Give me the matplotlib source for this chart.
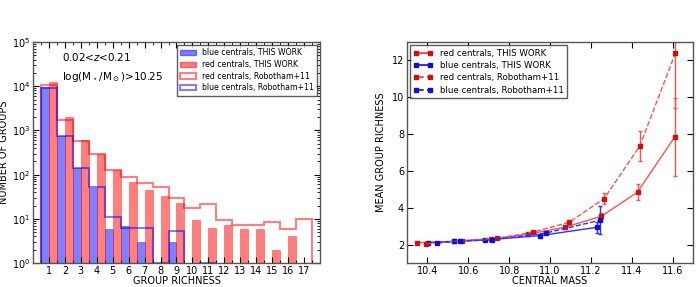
import numpy as np
import matplotlib
matplotlib.use('Agg')
import matplotlib.pyplot as plt
from matplotlib.ticker import MultipleLocator
from matplotlib.patches import Patch
from matplotlib.lines import Line2D

plt.rcParams['font.family'] = 'DejaVu Sans'
plt.rcParams['font.size'] = 7
plt.rcParams['mathtext.default'] = 'regular'
plt.rcParams['xtick.direction'] = 'in'
plt.rcParams['ytick.direction'] = 'in'
plt.rcParams['xtick.top'] = True
plt.rcParams['ytick.right'] = True
plt.rcParams['axes.linewidth'] = 1.0
plt.rcParams['axes.edgecolor'] = '#555555'

# --- left panel: histogram of group richness
richness = np.arange(1, 18)
red_tw = [12500, 2000, 620, 290, 125, 69, 44, 32, 23, 9.5, 6.3, 7.1, 6, 6, 2, 4, 0]
blue_tw = [9500, 760, 138, 50, 6, 7, 3, 0, 3, 0, 0, 0, 0, 0, 0, 0, 0]
red_rob = [10500, 1700, 590, 300, 124, 89, 63, 52, 29, 18, 22, 9.3, 7.1, 7.1, 8.3, 6, 10]
blue_rob = [9000, 750, 138, 53, 11, 6.2, 6.2, 1, 5.2, 0, 1, 0, 0, 0, 0, 0, 0]

# --- right panel: mean group richness vs central mass
red_tw_x = [10.352, 10.531, 10.712, 10.89, 11.072, 11.251, 11.427, 11.609]
red_tw_y = [2.10, 2.18, 2.31, 2.56, 2.94, 3.54, 4.85, 7.85]
red_tw_err = [0.03, 0.03, 0.04, 0.06, 0.08, 0.15, 0.42, 2.1]
blue_tw_x = [10.405, 10.53, 10.682, 10.953, 11.23]
blue_tw_y = [2.10, 2.17, 2.25, 2.49, 2.94]
blue_tw_err = [0.03, 0.03, 0.05, 0.08, 0.3]
red_rob_x = [10.394, 10.568, 10.742, 10.914, 11.093, 11.264, 11.438, 11.612]
red_rob_y = [2.04, 2.21, 2.34, 2.67, 3.21, 4.50, 7.35, 12.4]
red_rob_err = [0.03, 0.03, 0.04, 0.06, 0.15, 0.3, 0.8, 3.0]
blue_rob_x = [10.449, 10.56, 10.715, 10.98, 11.243]
blue_rob_y = [2.09, 2.20, 2.25, 2.63, 3.32]
blue_rob_err = [0.03, 0.03, 0.05, 0.08, 0.75]

fig = plt.figure(figsize=(6.99, 2.87), dpi=100)

ax1 = fig.add_axes([0.0472, 0.0836, 0.4106, 0.770])
ax1.set_yscale('log')
ax1.bar(richness - 0.25, blue_tw, width=0.5, color='blue', alpha=0.5,
        edgecolor='blue', linewidth=0.5)
ax1.bar(richness + 0.25, red_tw, width=0.5, color='red', alpha=0.5,
        edgecolor='red', linewidth=0.5)
edges = np.arange(0.5, 18.0, 1.0)
r_rob = np.where(np.array(red_rob) > 0, red_rob, 0.1)
b_rob = np.where(np.array(blue_rob) > 0, blue_rob, 0.1)
ax1.stairs(r_rob, edges, baseline=0.1, color='red', alpha=0.5, lw=1.5)
ax1.stairs(b_rob, edges, baseline=0.1, color='blue', alpha=0.5, lw=1.5)
ax1.set_xlim(0, 18)
ax1.set_ylim(1, 1e5)
ax1.set_xticks(richness)
ax1.xaxis.set_minor_locator(MultipleLocator(0.5))
ax1.set_xlabel('GROUP RICHNESS', labelpad=0)
ax1.set_ylabel('NUMBER OF GROUPS', labelpad=2)
ax1.text(0.10, 0.93, '0.02<$\\mathit{z}$<0.21', transform=ax1.transAxes,
         fontsize=7.5, va='center')
ax1.text(0.10, 0.84, 'log(M$_\\star$/M$_\\odot$)>10.25', transform=ax1.transAxes,
         fontsize=7.5, va='center')
h1 = [Patch(facecolor='blue', alpha=0.5, edgecolor='blue'),
      Patch(facecolor='red', alpha=0.5, edgecolor='red'),
      Patch(facecolor='none', edgecolor=(1, 0, 0, 0.5), lw=1.5),
      Patch(facecolor='none', edgecolor=(0, 0, 1, 0.5), lw=1.5)]
l1 = ['blue centrals, THIS WORK', 'red centrals, THIS WORK',
      'red centrals, Robotham+11', 'blue centrals, Robotham+11']
leg = ax1.legend(h1, l1, loc='upper right', fontsize=5.6, fancybox=False,
                 handlelength=2.0, borderaxespad=0.4, labelspacing=0.35)
leg.get_frame().set_edgecolor('#333333')
ax1.tick_params(which='major', length=4, pad=2)
ax1.tick_params(which='minor', length=2)

ax2 = fig.add_axes([0.582, 0.0836, 0.410, 0.770])
redl = '#ff5050'
bluel = '#3030ff'
redm = '#cc1111'
bluem = '#1111cc'
ax2.errorbar(red_tw_x, red_tw_y, yerr=red_tw_err, fmt='s-', color=redl,
             mfc=redm, mec=redm, ms=3.5, lw=1, capsize=1.5)
ax2.errorbar(blue_tw_x, blue_tw_y, yerr=blue_tw_err, fmt='s-', color=bluel,
             mfc=bluem, mec=bluem, ms=3.5, lw=1, capsize=1.5)
ax2.errorbar(red_rob_x, red_rob_y, yerr=red_rob_err, fmt='s--', color=redl,
             mfc=redm, mec=redm, ms=3.5, lw=1, capsize=1.5)
ax2.errorbar(blue_rob_x, blue_rob_y, yerr=blue_rob_err, fmt='s--', color=bluel,
             mfc=bluem, mec=bluem, ms=3.5, lw=1, capsize=1.5)
ax2.set_xlim(10.3, 11.7)
ax2.set_ylim(1, 13)
ax2.set_xticks([10.4, 10.6, 10.8, 11.0, 11.2, 11.4, 11.6])
ax2.set_yticks([2, 4, 6, 8, 10, 12])
ax2.set_xlabel('CENTRAL MASS', labelpad=0)
ax2.set_ylabel('MEAN GROUP RICHNESS', labelpad=4)
h2 = [Line2D([], [], color=redl, ls='-', marker='s', mfc=redm, mec=redm, ms=3.5),
      Line2D([], [], color=bluel, ls='-', marker='s', mfc=bluem, mec=bluem, ms=3.5),
      Line2D([], [], color=redl, ls='--', marker='s', mfc=redm, mec=redm, ms=3.5),
      Line2D([], [], color=bluel, ls='--', marker='s', mfc=bluem, mec=bluem, ms=3.5)]
l2 = ['red centrals, THIS WORK', 'blue centrals, THIS WORK',
      'red centrals, Robotham+11', 'blue centrals, Robotham+11']
leg2 = ax2.legend(h2, l2, loc='upper left', fontsize=6.2, fancybox=False,
                  numpoints=2, handlelength=2.2, borderaxespad=0.4,
                  labelspacing=0.38)
leg2.get_frame().set_edgecolor('#333333')
ax2.tick_params(which='major', length=4, pad=2)

fig.savefig('out.png', dpi=100)
